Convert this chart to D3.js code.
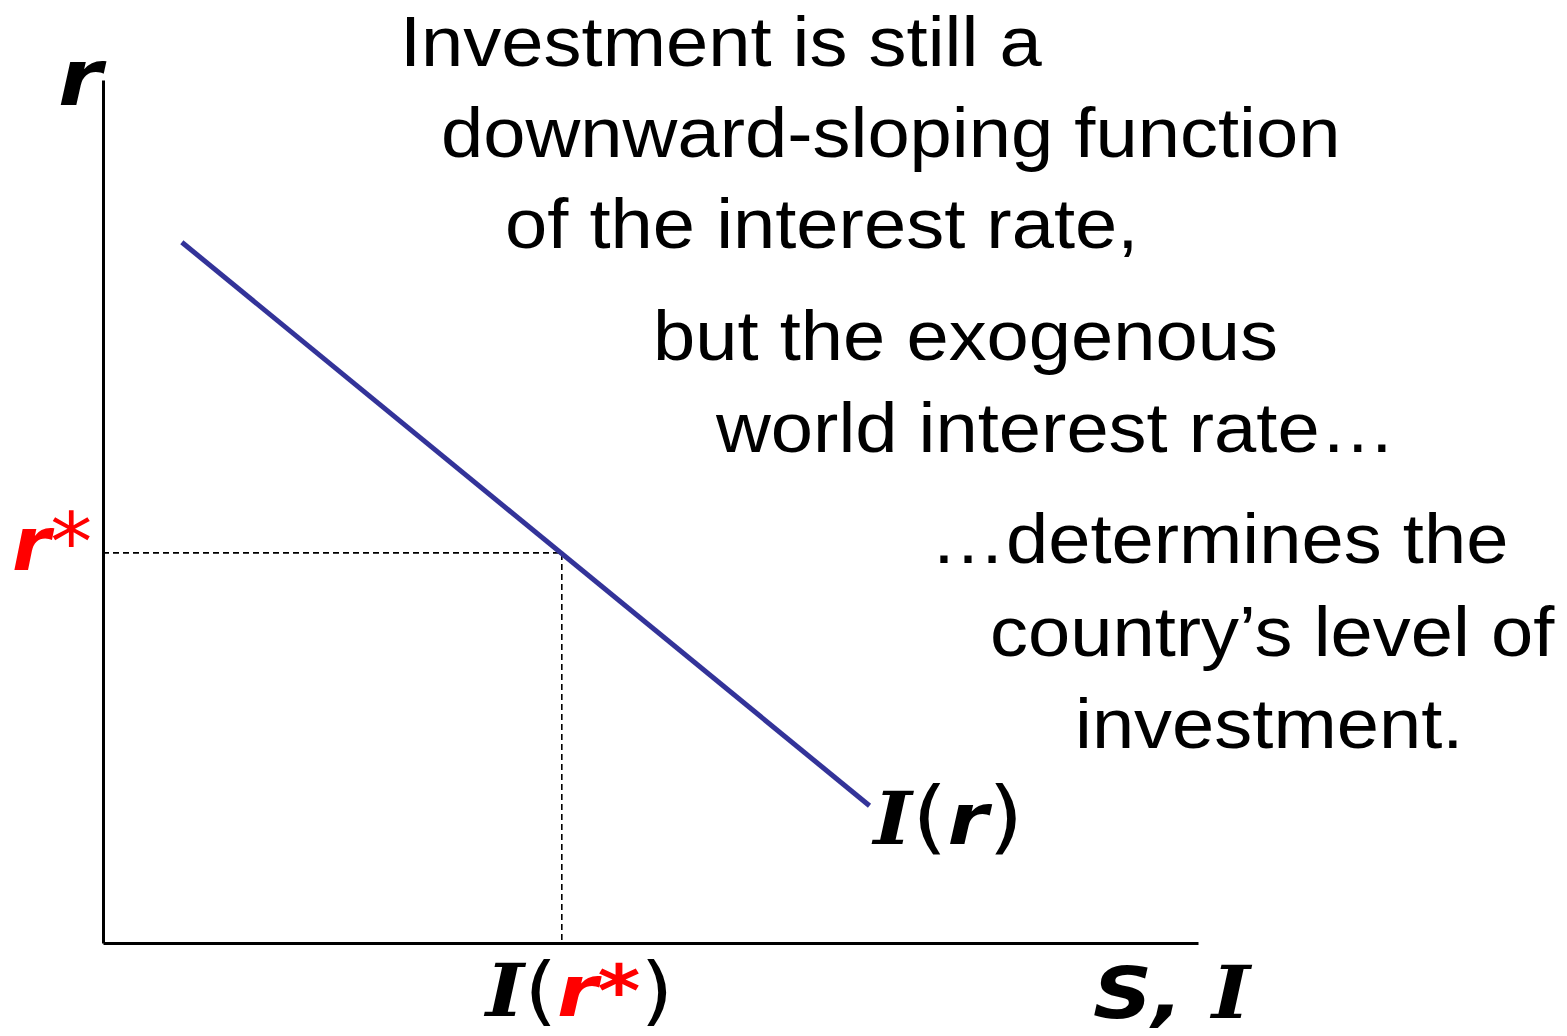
<!DOCTYPE html>
<html lang="en">
<head>
	<meta charset="UTF-8">
	<title>Investment and the world interest rate</title>
	<script type="text/javascript" src="https://cdn.jsdelivr.net/npm/d3@7/dist/d3.min.js"></script>
	<style>
		body { margin: 0; background: #fff; }
		.note { font-family: "Liberation Sans", Arial, sans-serif; font-size: 71px; fill: #000; }
		.math { font-family: "DejaVu Sans", Verdana, sans-serif; font-size: 72px; }
		.bi { font-weight: bold; font-style: italic; }
		.cap { font-family: "DejaVu Serif", serif; font-weight: bold; font-style: italic; }
		.paren { font-weight: normal; font-style: normal; font-size: 80px; }
		.paren-sm { font-weight: normal; font-style: normal; font-size: 74px; }
		.star { font-weight: normal; font-style: normal; font-size: 80px; }
	</style>
</head>
<body>
<script type="text/javascript">
	// investment schedule I(r) (x = S,I ; y = r)
	var investX = [0.72, 7.0];
	var investR = [8.12, 1.59];
	// world interest rate and resulting investment
	var rStar = 4.52;
	var iStar = 4.19;
	// annotation text, one entry per line
	var noteLines = [
		'Investment is still a',
		'downward-sloping function',
		'of the interest rate,',
		'but the exogenous',
		'world interest rate\u2026',
		'\u2026determines the',
		'country\u2019s level of',
		'investment.'
	];

	var W = 1567, H = 1036;
	var svg = d3.select('body').append('svg')
		.attr('width', W)
		.attr('height', H);

	var x = d3.scaleLinear().domain([0, 10]).range([103, 1198]);
	var y = d3.scaleLinear().domain([0, 10]).range([943, 80]);

	// axes without ticks
	svg.append('g')
		.attr('transform', 'translate(0,' + y(0) + ')')
		.call(d3.axisBottom(x).tickValues([]).tickSizeOuter(0))
		.select('.domain').attr('stroke', '#000').attr('stroke-width', 3);
	svg.append('g')
		.attr('transform', 'translate(' + x(0) + ',0)')
		.call(d3.axisLeft(y).tickValues([]).tickSizeOuter(0))
		.select('.domain').attr('stroke', '#000').attr('stroke-width', 3);

	// dashed guides at r*
	svg.append('path')
		.attr('d', d3.line()([[x(0), y(rStar)], [x(iStar), y(rStar)], [x(iStar), y(0)]]))
		.attr('fill', 'none')
		.attr('stroke', '#000')
		.attr('stroke-width', 1.6)
		.attr('stroke-dasharray', '6,4');

	// investment line
	var pts = investX.map(function (d, i) { return [d, investR[i]]; });
	svg.append('path')
		.datum(pts)
		.attr('d', d3.line().x(function (d) { return x(d[0]); }).y(function (d) { return y(d[1]); }))
		.attr('fill', 'none')
		.attr('stroke', '#333399')
		.attr('stroke-width', 5);

	// math labels, slightly widened like the slide's Verdana
	function mathLabel(px, py, parts, size, sx) {
		var t = svg.append('text').attr('class', 'math')
			.attr('transform', 'translate(' + px + ',' + py + ') scale(' + (sx || 1.14) + ',1)')
			.style('font-size', (size || 72) + 'px');
		parts.forEach(function (p) {
			t.append('tspan').attr('class', p.c).attr('fill', p.f || '#000').text(p.t);
		});
		return t;
	}

	mathLabel(58, 105, [{t: 'r', c: 'bi'}], 78);
	mathLabel(12, 570, [{t: 'r', c: 'bi', f: '#ff0000'}, {t: '*', c: 'star', f: '#ff0000'}], 74, 1.05);
	mathLabel(x(investX[1]) + 4, y(investR[1]) + 38, [
		{t: 'I', c: 'cap'}, {t: '(', c: 'paren'}, {t: 'r', c: 'bi'}, {t: ')', c: 'paren'}
	]);
	mathLabel(x(iStar) - 76, 1016, [
		{t: 'I', c: 'cap'}, {t: '(', c: 'paren-sm'}, {t: 'r', c: 'bi', f: '#ff0000'},
		{t: '*', c: 'bi', f: '#ff0000'}, {t: ')', c: 'paren-sm'}
	]);
	mathLabel(1093, 1018, [{t: 'S, ', c: 'bi'}, {t: 'I', c: 'cap'}]);

	// annotation lines: [left, baseline]
	var notePos = [[400, 66], [441, 157], [505, 248], [653, 360], [716, 452], [930, 563], [990, 656], [1075, 748]];
	svg.selectAll('.note')
		.data(noteLines)
		.enter().append('text')
		.attr('class', 'note')
		.attr('transform', function (d, i) {
			return 'translate(' + notePos[i][0] + ',' + notePos[i][1] + ') scale(1.07,1)';
		})
		.text(function (d) { return d; });
</script>
</body>
</html>
